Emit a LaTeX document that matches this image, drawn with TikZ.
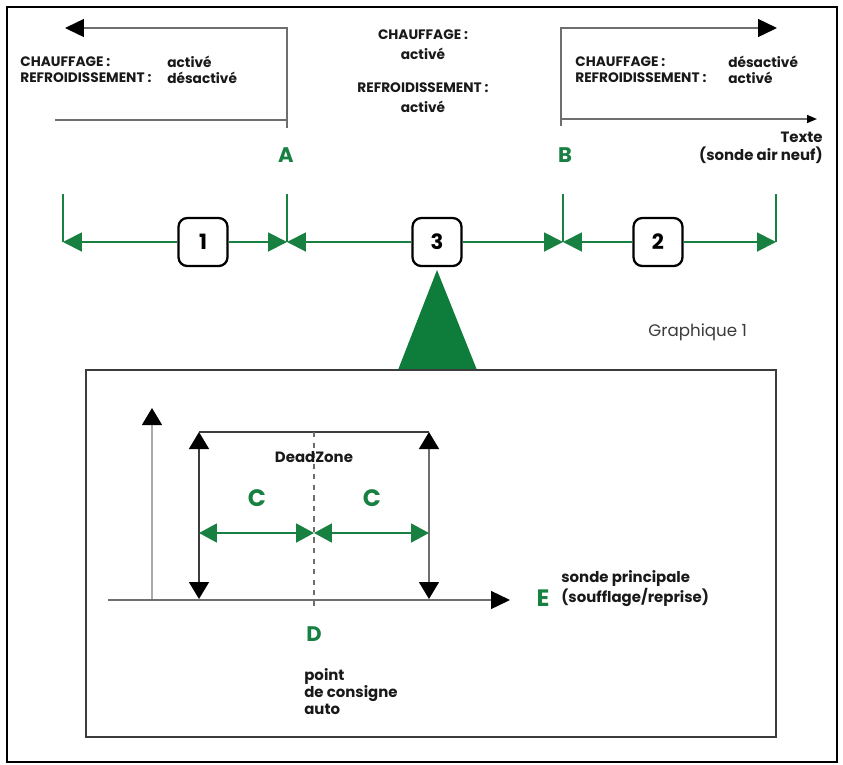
\documentclass[tikz,border=0pt]{standalone}
\usepackage{fontspec}
\setmainfont{Poppins}
\usetikzlibrary{arrows.meta}
\definecolor{figgreen}{RGB}{24,128,64}
\definecolor{figtri}{RGB}{14,124,58}
\definecolor{figline}{RGB}{110,110,110}
\definecolor{figlight}{RGB}{170,170,170}
\definecolor{figdark}{RGB}{60,60,60}
\definecolor{figtext}{RGB}{25,25,25}
\tikzset{
  gl/.style   ={draw=figgreen, line width=1.1pt},
  gtip/.style ={gl, -{Triangle[length=0.38cm,width=0.38cm]}},
  gboth/.style={gl, {Triangle[length=0.36cm,width=0.38cm]}-{Triangle[length=0.36cm,width=0.38cm]}},
  sc/.style   ={draw=figline, line width=0.8pt},
  bigtip/.style={sc, -{Triangle[length=0.38cm,width=0.36cm,color=black,fill=black]}},
  bkboth/.style={line width=0.8pt, {Triangle[length=0.34cm,width=0.4cm,color=black,fill=black]}-{Triangle[length=0.34cm,width=0.4cm,color=black,fill=black]}},
  num/.style  ={draw=black, line width=1.3pt, rounded corners=5pt, minimum width=0.98cm,
                minimum height=0.96cm, inner sep=0pt, font=\bfseries\fontsize{12}{12}\selectfont},
  txt/.style  ={font=\bfseries\fontsize{7.8}{9.1}\selectfont, text=figtext, inner sep=0pt},
  grn/.style  ={font=\bfseries\fontsize{12}{12}\selectfont, text=figgreen, inner sep=0pt},
  grnl/.style ={font=\bfseries\fontsize{13.5}{13.5}\selectfont, text=figgreen, inner sep=0pt},
}
\begin{document}
\begin{tikzpicture}[x=0.02cm,y=-0.02cm]
  \useasboundingbox (0,0) rectangle (843,765);
  \draw[black, line width=1.2pt] (7,7) rectangle (837,762);
  % haut : zones de fonctionnement
  \coordinate (lfoot) at (287,128);
  \coordinate (lcorner) at (287,28);
  \coordinate (ltip) at (65,28);
  \coordinate (lbase) at (55,120);
  \draw[bigtip] (lfoot) -- (lcorner) -- (ltip);
  \draw[sc] (lbase) -- (lbase -| lfoot);
  \coordinate (rfoot) at (561,126);
  \coordinate (rcorner) at (561,28);
  \coordinate (rtip) at (777,28);
  \coordinate (rbase) at (561,119);
  \coordinate (rend) at (817,119);
  \draw[bigtip] (rfoot) -- (rcorner) -- (rtip);
  \draw[sc, -{Triangle[length=0.2cm,width=0.16cm,color=black,fill=black]}] (rbase) -- (rend);
  \node[txt, anchor=west] (lch) at (20,62) {CHAUFFAGE :};
  \node[txt, anchor=west] (lchv) at (167,62) {activé};
  \node[txt, anchor=west] (lrf) at (20,78) {REFROIDISSEMENT :};
  \node[txt, anchor=west] (lrfv) at (167,78) {désactivé};
  \node[txt] (mch) at (423,35) {CHAUFFAGE :};
  \node[txt] (mchv) at (423,54) {activé};
  \node[txt] (mrf) at (423,88) {REFROIDISSEMENT :};
  \node[txt] (mrfv) at (423,107) {activé};
  \node[txt, anchor=west] (rch) at (575,62) {CHAUFFAGE :};
  \node[txt, anchor=west] (rchv) at (728,62) {désactivé};
  \node[txt, anchor=west] (rrf) at (575,78) {REFROIDISSEMENT :};
  \node[txt, anchor=west] (rrfv) at (728,78) {activé};
  \node[txt, anchor=east, font=\bfseries\fontsize{8.5}{9}\selectfont] (ext) at (823,137) {Texte};
  \node[txt, anchor=east, font=\bfseries\fontsize{8.5}{9}\selectfont] (extb) at (823,155) {(sonde air neuf)};
  \node[grn] (A) at (286,155) {A};
  \node[grn] (B) at (565,155) {B};
  % ligne des zones
  \node[num] (n1) at (203,242) {1};
  \node[num] (n3) at (437,242) {3};
  \node[num] (n2) at (658,242) {2};
  \coordinate (tL) at (63,242);
  \coordinate (tA) at (287,242);
  \coordinate (tB) at (563,242);
  \coordinate (tR) at (776,242);
  \foreach \t in {tL,tA,tB,tR}
    \draw[gl] (\t) -- ++(0,-48);
  \draw[gtip] (n1) -- (tL);
  \draw[gtip] (n1) -- (tA);
  \draw[gtip] (n3) -- (tA);
  \draw[gtip] (n3) -- (tB);
  \draw[gtip] (n2) -- (tB);
  \draw[gtip] (n2) -- (tR);
  \fill[figtri] (437,270) -- (398,370) -- (477,370) -- cycle;
  \node[font=\fontsize{9.5}{10}\selectfont, text=figdark, anchor=west, inner sep=0pt] (graph) at (648,332) {Graphique 1};
  % cadre du detail
  \draw[draw=figdark, line width=1pt] (86,370) rectangle (776,737);
  \coordinate (yfoot) at (152,600);
  \coordinate (ytip) at (152,408);
  \draw[draw=figlight, line width=0.7pt, -{Triangle[length=0.34cm,width=0.4cm,color=black,fill=black]}] (yfoot) -- (ytip);
  \coordinate (xstart) at (108,600);
  \coordinate (xtip) at (510,600);
  \draw[sc, -{Triangle[length=0.38cm,width=0.36cm,color=black,fill=black]}] (xstart) -- (xtip);
  \coordinate (dlt) at (199,432);
  \coordinate (dlb) at (199,599);
  \coordinate (drt) at (429,432);
  \coordinate (drb) at (429,599);
  \draw[bkboth, draw=figdark] (dlb) -- (dlt);
  \draw[bkboth, draw=figline] (drb) -- (drt);
  \draw[draw=figdark, line width=0.7pt] (dlt) -- (drt);
  \coordinate (ctop) at (314,432);
  \coordinate (cbot) at (314,608);
  \draw[draw=figline, line width=0.8pt, dashed] (ctop) -- (cbot);
  \node[txt, font=\bfseries\fontsize{8.5}{9}\selectfont] (dz) at (314,457) {DeadZone};
  \node[grnl] (c1) at (257,498) {C};
  \node[grnl] (c2) at (372,498) {C};
  \coordinate (gl1) at (199,533);
  \coordinate (gmid) at (314,533);
  \coordinate (gr1) at (429,533);
  \draw[gboth] (gl1) -- (gmid);
  \draw[gboth] (gmid) -- (gr1);
  \node[grn] (D) at (314,634) {D};
  \node[txt, anchor=north west, align=left, font=\bfseries\fontsize{8.5}{9.6}\selectfont] (cons) at (304,668) {point\\de consigne\\auto};
  \node[grnl] (E) at (543,598) {E};
  \node[txt, anchor=west, align=left, font=\bfseries\fontsize{8.5}{10.2}\selectfont] (sonde) at (561,589) {sonde principale\\(soufflage/reprise)};
\end{tikzpicture}
\end{document}
